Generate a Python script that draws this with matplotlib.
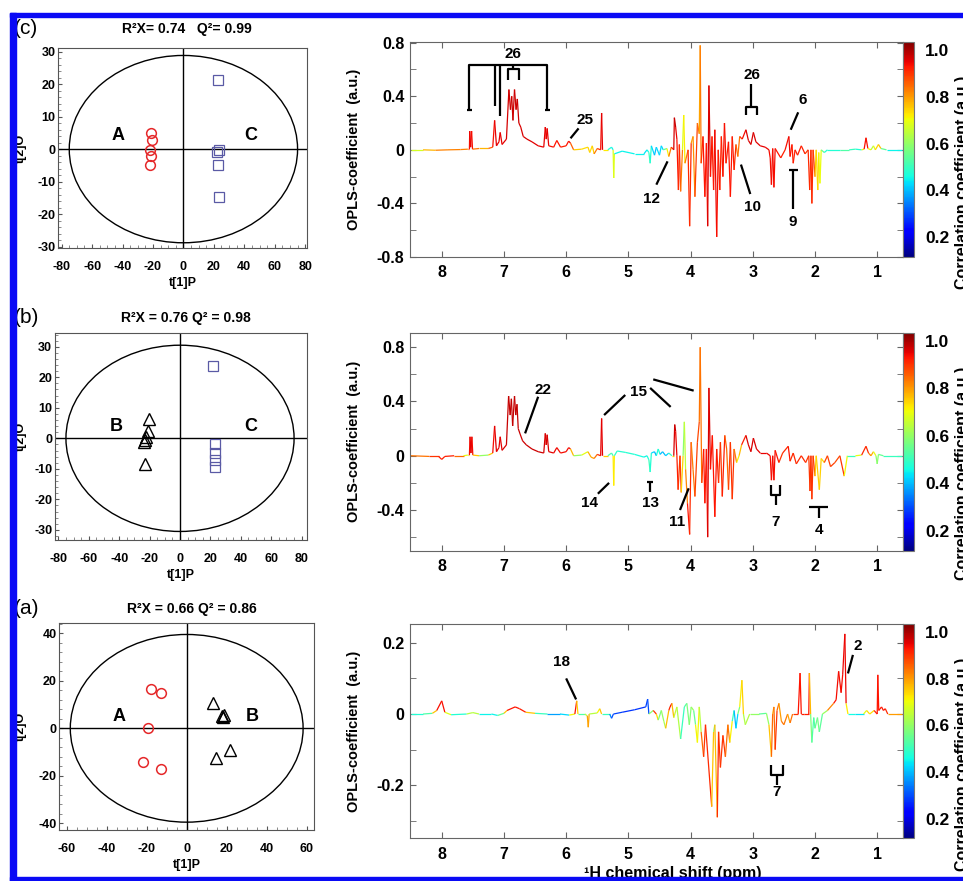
import numpy as np
import matplotlib
matplotlib.use("Agg")
import matplotlib.pyplot as plt
from matplotlib.collections import LineCollection
from matplotlib.patches import Ellipse, Rectangle
from matplotlib.colors import Normalize
from matplotlib.cm import ScalarMappable
from matplotlib.ticker import FixedLocator, AutoMinorLocator, FuncFormatter

plt.rcParams["font.family"] = ["Liberation Sans", "DejaVu Sans"]
plt.rcParams["font.weight"] = "bold"
plt.rcParams["axes.unicode_minus"] = False

# ---------------------------------------------------------------- score plots
# panel (c): A vs C
c_A_x = [-21.5, -20.9, -22.2, -21.4, -22.2]
c_A_y = [5.1, 2.8, -0.2, -2.1, -4.8]
c_C_x = [22.4, 23.5, 22.0, 23.0, 23.5]
c_C_y = [21.2, -0.3, -1.0, -5.0, -14.7]
# panel (b): B vs C
b_B_x = [-20.2, -20.8, -23.0, -23.5, -22.5, -23.0]
b_B_y = [6.2, 2.4, -0.5, -1.2, 0.3, -8.5]
b_C_x = [21.4, 22.9, 22.7, 22.7, 22.7]
b_C_y = [23.6, -1.7, -4.7, -7.2, -9.3]
# panel (a): A vs B
a_A_x = [-17.8, -13.0, -19.2, -22.0, -12.8]
a_A_y = [16.4, 15.0, 0.0, -14.2, -17.3]
a_B_x = [13.3, 17.5, 18.7, 18.0, 14.7, 21.7]
a_B_y = [10.5, 5.2, 5.5, 4.8, -12.4, -9.3]

titles = ["R²X= 0.74   Q²= 0.99", "R²X = 0.76 Q² = 0.98", "R²X = 0.66 Q² = 0.86"]
tags = ["(c)", "(b)", "(a)"]

# ---------------------------------------------------------------- loadings (ppm, coefficient, correlation)
c_ppm = [8.50, 8.30, 8.10, 7.90, 7.70, 7.58, 7.555, 7.55, 7.535, 7.52, 7.505, 7.40, 7.25, 7.18, 7.15,
         7.12, 7.08, 7.06, 7.03, 6.96, 6.92, 6.895, 6.875, 6.855, 6.83, 6.805, 6.785, 6.76, 6.73, 6.69,
         6.63, 6.55, 6.45, 6.36, 6.335, 6.32, 6.305, 6.28, 6.20, 6.15, 6.09, 6.00, 5.96, 5.93, 5.88,
         5.75, 5.65, 5.62, 5.58, 5.55, 5.50, 5.445, 5.43, 5.415, 5.33, 5.27, 5.245, 5.235, 5.225, 5.10,
         4.90, 4.75, 4.70, 4.67, 4.65, 4.63, 4.58, 4.55, 4.50, 4.47, 4.44, 4.38, 4.35, 4.31, 4.27,
         4.26, 4.24, 4.22, 4.195, 4.18, 4.16, 4.13, 4.11, 4.09, 4.04, 4.015, 3.99, 3.96, 3.93, 3.89,
         3.86, 3.845, 3.83, 3.80, 3.77, 3.745, 3.725, 3.705, 3.68, 3.655, 3.63, 3.61, 3.58, 3.555, 3.53,
         3.505, 3.48, 3.455, 3.43, 3.39, 3.36, 3.33, 3.30, 3.27, 3.24, 3.21, 3.17, 3.11, 3.07, 3.03,
         2.99, 2.95, 2.88, 2.80, 2.74, 2.72, 2.70, 2.68, 2.66, 2.64, 2.55, 2.48, 2.42, 2.40, 2.37,
         2.35, 2.32, 2.28, 2.22, 2.16, 2.11, 2.085, 2.065, 2.05, 2.03, 2.00, 1.98, 1.955, 1.94, 1.92,
         1.90, 1.85, 1.80, 1.60, 1.45, 1.35, 1.25, 1.21, 1.18, 1.15, 1.10, 1.06, 1.03, 0.98, 0.94,
         0.85, 0.60]
c_coef = [0.0, 0.0, -0.003, 0.0, 0.002, 0.005, 0.005, 0.14, 0.02, 0.14, 0.005, 0.01, 0.01, 0.02, 0.22,
          0.03, 0.06, 0.13, 0.04, 0.08, 0.45, 0.30, 0.40, 0.22, 0.45, 0.30, 0.38, 0.20, 0.17, 0.10,
          0.08, 0.06, 0.03, 0.02, 0.17, 0.08, 0.16, 0.03, 0.02, 0.07, 0.02, 0.03, 0.065, 0.05, 0.0,
          0.005, 0.02, -0.02, 0.03, -0.03, 0.01, 0.0, 0.275, 0.0, 0.0, 0.02, 0.0, -0.21, -0.03, -0.01,
          -0.03, -0.03, 0.0, -0.02, -0.10, 0.03, -0.04, 0.02, -0.04, 0.03, 0.0, 0.01, -0.05, 0.02, 0.0,
          0.24, 0.17, 0.08, -0.30, 0.04, -0.31, 0.0, 0.26, -0.10, 0.0, -0.57, 0.05, 0.10, -0.35, 0.20,
          0.12, 0.78, -0.10, 0.10, -0.35, 0.05, -0.57, 0.48, -0.20, 0.10, -0.30, 0.15, -0.65, 0.0, -0.30,
          0.10, -0.20, 0.20, -0.10, 0.06, -0.35, 0.10, -0.15, 0.04, -0.05, 0.10, 0.08, 0.15, 0.07, 0.04,
          0.13, 0.06, 0.03, 0.02, 0.0, -0.06, -0.26, 0.01, -0.28, 0.01, -0.06, 0.0, 0.10, -0.05, 0.04,
          -0.10, 0.0, -0.04, 0.03, -0.03, 0.0, -0.30, 0.0, -0.40, 0.0, -0.20, 0.0, -0.30, -0.02, -0.25,
          0.0, -0.02, 0.0, 0.0, 0.0, 0.005, 0.0, 0.005, 0.09, 0.01, 0.0, 0.03, 0.0, 0.04, 0.01,
          0.0, 0.0]
c_corr = [0.6, 0.75, 0.8, 0.85, 0.8, 0.85, 0.92, 0.95, 0.95, 0.95, 0.92, 0.75, 0.8, 0.92, 0.95,
          0.95, 0.95, 0.95, 0.95, 0.96, 0.97, 0.97, 0.97, 0.97, 0.97, 0.97, 0.97, 0.97, 0.96, 0.96,
          0.96, 0.96, 0.95, 0.95, 0.95, 0.95, 0.95, 0.95, 0.92, 0.94, 0.92, 0.92, 0.94, 0.94, 0.78,
          0.72, 0.75, 0.75, 0.72, 0.78, 0.88, 0.92, 0.96, 0.95, 0.5, 0.45, 0.45, 0.92, 0.45, 0.45,
          0.45, 0.45, 0.42, 0.5, 0.5, 0.45, 0.4, 0.4, 0.45, 0.4, 0.45, 0.65, 0.78, 0.88, 0.95,
          0.98, 0.97, 0.92, 0.94, 0.88, 0.94, 0.72, 0.65, 0.78, 0.88, 0.94, 0.88, 0.72, 0.9, 0.88,
          0.8, 0.78, 0.88, 0.92, 0.94, 0.92, 0.94, 0.98, 0.94, 0.92, 0.92, 0.94, 0.95, 0.92, 0.92,
          0.92, 0.92, 0.95, 0.92, 0.92, 0.94, 0.92, 0.92, 0.9, 0.8, 0.88, 0.92, 0.96, 0.96, 0.96,
          0.96, 0.96, 0.95, 0.95, 0.94, 0.94, 0.94, 0.94, 0.94, 0.94, 0.92, 0.92, 0.95, 0.94, 0.92,
          0.92, 0.92, 0.92, 0.92, 0.92, 0.88, 0.94, 0.88, 0.94, 0.88, 0.9, 0.6, 0.88, 0.6, 0.8,
          0.6, 0.5, 0.45, 0.5, 0.55, 0.45, 0.5, 0.92, 0.95, 0.92, 0.5, 0.78, 0.6, 0.88, 0.65,
          0.45, 0.45]

b_ppm = [8.50, 8.20, 8.05, 8.00, 7.95, 7.80, 7.65, 7.58, 7.555, 7.545, 7.53, 7.515, 7.50, 7.40, 7.25,
         7.18, 7.15, 7.12, 7.08, 7.06, 7.03, 6.96, 6.925, 6.90, 6.88, 6.86, 6.83, 6.81, 6.79, 6.77,
         6.74, 6.70, 6.64, 6.55, 6.45, 6.36, 6.335, 6.32, 6.305, 6.28, 6.20, 6.15, 6.09, 6.00, 5.96,
         5.93, 5.88, 5.75, 5.65, 5.60, 5.55, 5.50, 5.445, 5.43, 5.415, 5.33, 5.27, 5.245, 5.235, 5.225,
         5.18, 5.05, 4.90, 4.75, 4.70, 4.67, 4.65, 4.63, 4.58, 4.55, 4.52, 4.49, 4.45, 4.40, 4.35,
         4.30, 4.27, 4.255, 4.24, 4.22, 4.20, 4.17, 4.15, 4.12, 4.10, 4.08, 4.05, 4.015, 3.99, 3.96,
         3.93, 3.89, 3.86, 3.845, 3.82, 3.79, 3.77, 3.745, 3.725, 3.705, 3.68, 3.65, 3.61, 3.58, 3.55,
         3.52, 3.49, 3.45, 3.42, 3.39, 3.36, 3.33, 3.30, 3.26, 3.22, 3.18, 3.11, 3.07, 3.03, 2.99,
         2.94, 2.88, 2.78, 2.72, 2.70, 2.68, 2.66, 2.64, 2.58, 2.52, 2.43, 2.40, 2.35, 2.30, 2.22,
         2.15, 2.10, 2.08, 2.065, 2.05, 2.03, 2.00, 1.98, 1.93, 1.90, 1.85, 1.80, 1.75, 1.68, 1.60,
         1.53, 1.48, 1.35, 1.25, 1.18, 1.14, 1.10, 1.06, 1.02, 1.00, 0.98, 0.90, 0.60]
b_coef = [0.0, -0.005, -0.005, -0.027, -0.005, 0.0, 0.0, 0.005, 0.005, 0.14, 0.02, 0.14, 0.005, 0.0, 0.005,
          0.02, 0.22, 0.03, 0.06, 0.14, 0.04, 0.08, 0.44, 0.30, 0.42, 0.22, 0.44, 0.30, 0.38, 0.20,
          0.16, 0.11, 0.08, 0.05, 0.03, 0.02, 0.165, 0.08, 0.155, 0.03, 0.02, 0.06, 0.02, 0.03, 0.06,
          0.05, 0.0, 0.005, 0.03, -0.01, -0.02, 0.01, 0.0, 0.275, 0.0, 0.0, 0.02, 0.0, -0.22, 0.0,
          0.035, 0.025, 0.01, -0.01, 0.0, -0.03, -0.12, 0.02, 0.03, 0.0, 0.05, 0.01, 0.03, 0.0, 0.02,
          0.0, 0.0, 0.23, 0.18, 0.0, -0.25, 0.0, -0.27, 0.0, 0.25, -0.10, -0.35, -0.58, 0.10, -0.10,
          -0.30, 0.10, 0.25, 0.80, -0.20, 0.05, -0.35, 0.05, -0.60, 0.50, -0.10, 0.15, -0.45, 0.05, -0.20,
          0.10, -0.30, 0.15, 0.05, -0.25, 0.10, -0.32, 0.05, -0.05, 0.0, 0.08, 0.15, 0.08, 0.03, 0.13,
          0.05, 0.02, 0.02, 0.0, -0.18, 0.0, -0.18, 0.04, -0.05, 0.02, 0.07, -0.04, 0.02, -0.06, 0.0,
          -0.05, 0.0, -0.26, 0.0, -0.32, 0.0, -0.15, 0.0, -0.25, -0.02, -0.05, 0.0, -0.08, -0.05, 0.0,
          -0.15, 0.0, 0.0, 0.005, 0.07, 0.02, 0.0, 0.03, 0.0, -0.06, 0.01, 0.0, 0.0]
b_corr = [0.8, 0.88, 0.92, 0.92, 0.92, 0.92, 0.78, 0.6, 0.92, 0.96, 0.95, 0.96, 0.92, 0.6, 0.6,
          0.92, 0.96, 0.95, 0.95, 0.96, 0.95, 0.97, 0.98, 0.98, 0.98, 0.98, 0.98, 0.98, 0.98, 0.98,
          0.97, 0.97, 0.97, 0.97, 0.97, 0.97, 0.96, 0.96, 0.96, 0.96, 0.95, 0.94, 0.94, 0.94, 0.94,
          0.94, 0.6, 0.6, 0.78, 0.78, 0.8, 0.88, 0.94, 0.96, 0.95, 0.55, 0.5, 0.5, 0.94, 0.5,
          0.48, 0.48, 0.48, 0.45, 0.45, 0.5, 0.5, 0.45, 0.4, 0.38, 0.55, 0.4, 0.4, 0.4, 0.45,
          0.55, 0.95, 0.98, 0.97, 0.92, 0.92, 0.88, 0.9, 0.6, 0.58, 0.72, 0.92, 0.94, 0.88, 0.78,
          0.9, 0.88, 0.88, 0.8, 0.88, 0.92, 0.94, 0.92, 0.94, 0.98, 0.94, 0.92, 0.94, 0.92, 0.92,
          0.88, 0.92, 0.92, 0.8, 0.9, 0.88, 0.92, 0.88, 0.78, 0.65, 0.88, 0.96, 0.96, 0.96, 0.96,
          0.96, 0.95, 0.95, 0.94, 0.94, 0.94, 0.94, 0.94, 0.92, 0.88, 0.94, 0.92, 0.9, 0.92, 0.9,
          0.92, 0.88, 0.92, 0.88, 0.92, 0.88, 0.9, 0.6, 0.9, 0.6, 0.88, 0.88, 0.9, 0.88, 0.88,
          0.92, 0.5, 0.5, 0.88, 0.94, 0.88, 0.78, 0.78, 0.6, 0.58, 0.6, 0.5, 0.5]

a_ppm = [8.50, 8.30, 8.15, 8.08, 8.00, 7.95, 7.85, 7.60, 7.50, 7.40, 7.20, 7.10, 7.00, 6.95, 6.82,
         6.75, 6.65, 6.50, 6.30, 6.10, 5.95, 5.86, 5.83, 5.81, 5.70, 5.66, 5.645, 5.63, 5.50, 5.46,
         5.43, 5.30, 5.27, 5.24, 5.10, 4.90, 4.72, 4.69, 4.67, 4.60, 4.55, 4.52, 4.47, 4.43, 4.40,
         4.35, 4.33, 4.30, 4.27, 4.22, 4.16, 4.10, 4.06, 4.02, 3.99, 3.95, 3.92, 3.89, 3.86, 3.83,
         3.79, 3.76, 3.66, 3.63, 3.61, 3.57, 3.55, 3.52, 3.48, 3.44, 3.40, 3.37, 3.33, 3.30, 3.27,
         3.24, 3.21, 3.175, 3.15, 3.12, 3.05, 2.90, 2.78, 2.74, 2.70, 2.68, 2.66, 2.64, 2.61, 2.58,
         2.54, 2.50, 2.44, 2.40, 2.36, 2.27, 2.24, 2.22, 2.17, 2.10, 2.09, 2.07, 2.05, 2.02, 2.00,
         1.96, 1.93, 1.88, 1.80, 1.70, 1.66, 1.62, 1.58, 1.555, 1.52, 1.50, 1.47, 1.35, 1.22, 1.17,
         1.12, 1.05, 1.00, 0.99, 0.975, 0.93, 0.90, 0.87, 0.83, 0.60]
a_coef = [0.0, 0.0, 0.002, 0.01, 0.037, 0.005, -0.002, 0.0, 0.004, 0.0, 0.0, -0.004, 0.002, 0.01, 0.02,
          0.015, 0.005, 0.002, 0.0, 0.0, -0.003, 0.0, 0.037, 0.0, 0.0, -0.005, -0.037, 0.0, 0.003, 0.015,
          0.0, 0.0, -0.012, 0.0, 0.005, 0.012, 0.02, 0.042, 0.0, 0.01, 0.0, -0.017, 0.01, -0.02, -0.04,
          0.01, 0.02, 0.03, -0.01, 0.02, -0.07, 0.02, 0.03, -0.03, 0.02, 0.01, -0.03, -0.08, 0.02, -0.05,
          -0.12, -0.03, -0.26, -0.05, -0.03, -0.29, -0.05, -0.15, -0.06, -0.12, -0.03, -0.08, -0.02, 0.01, -0.04,
          0.0, 0.02, 0.095, 0.0, -0.03, 0.0, 0.0, 0.002, -0.03, -0.12, 0.0, 0.02, -0.10, 0.01, 0.03,
          -0.02, -0.03, 0.0, -0.025, 0.0, 0.0, 0.115, 0.0, 0.0, 0.0, 0.115, 0.0, -0.08, -0.01, -0.04,
          -0.01, -0.05, 0.0, 0.01, 0.03, 0.04, 0.12, 0.06, 0.11, 0.225, 0.03, 0.0, 0.0, 0.0, 0.01,
          0.0, 0.01, 0.0, 0.11, 0.01, 0.02, 0.01, 0.015, 0.0, 0.0]
a_corr = [0.5, 0.45, 0.6, 0.92, 0.95, 0.92, 0.45, 0.5, 0.78, 0.5, 0.4, 0.5, 0.6, 0.92, 0.94,
          0.92, 0.92, 0.6, 0.4, 0.35, 0.5, 0.92, 0.94, 0.55, 0.5, 0.78, 0.8, 0.78, 0.5, 0.92,
          0.6, 0.4, 0.3, 0.3, 0.28, 0.28, 0.28, 0.3, 0.3, 0.88, 0.92, 0.55, 0.6, 0.6, 0.65,
          0.88, 0.94, 0.94, 0.6, 0.72, 0.55, 0.45, 0.6, 0.55, 0.62, 0.6, 0.5, 0.92, 0.5, 0.78,
          0.92, 0.88, 0.94, 0.58, 0.6, 0.94, 0.88, 0.92, 0.88, 0.92, 0.78, 0.88, 0.55, 0.45, 0.35,
          0.5, 0.65, 0.78, 0.72, 0.55, 0.72, 0.48, 0.6, 0.6, 0.92, 0.78, 0.78, 0.92, 0.88, 0.8,
          0.8, 0.88, 0.78, 0.8, 0.88, 0.92, 0.94, 0.92, 0.92, 0.92, 0.94, 0.6, 0.55, 0.5, 0.55,
          0.55, 0.58, 0.5, 0.72, 0.92, 0.94, 0.94, 0.94, 0.94, 0.95, 0.94, 0.5, 0.42, 0.45, 0.92,
          0.55, 0.92, 0.92, 0.94, 0.92, 0.94, 0.92, 0.94, 0.88, 0.72]

# peak assignments: (label, ppm, coefficient) and leader lines / brackets
c_labels = [("26", 6.85, 0.713), ("25", 5.70, 0.226), ("12", 4.63, -0.37), ("26", 3.02, 0.56),
            ("10", 3.00, -0.43), ("6", 2.19, 0.37), ("9", 2.35, -0.54)]
c_marks = [[(7.555, 0.295), (7.555, 0.635), (6.30, 0.635), (6.30, 0.295)],
           [(7.60, 0.295), (7.51, 0.295)], [(6.345, 0.295), (6.255, 0.295)],
           [(7.15, 0.635), (7.15, 0.33)], [(7.06, 0.635), (7.06, 0.25)],
           [(6.94, 0.52), (6.94, 0.60), (6.76, 0.60), (6.76, 0.52)], [(6.85, 0.60), (6.85, 0.635)],
           [(5.80, 0.16), (5.93, 0.086)], [(4.55, -0.26), (4.37, -0.086)],
           [(3.03, 0.49), (3.03, 0.32)], [(3.11, 0.26), (3.11, 0.32), (2.94, 0.32), (2.94, 0.26)],
           [(3.04, -0.33), (3.19, -0.11)], [(2.27, 0.28), (2.39, 0.15)],
           [(2.41, -0.148), (2.28, -0.148)], [(2.35, -0.148), (2.35, -0.44)]]
b_labels = [("22", 6.37, 0.485), ("15", 4.84, 0.47), ("14", 5.62, -0.35), ("13", 4.65, -0.35),
            ("11", 4.22, -0.49), ("7", 2.63, -0.487), ("4", 1.93, -0.55)]
b_marks = [[(6.45, 0.435), (6.66, 0.165)],
           [(5.05, 0.448), (5.39, 0.30)], [(4.65, 0.50), (4.32, 0.36)], [(4.60, 0.563), (3.95, 0.48)],
           [(5.49, -0.28), (5.31, -0.20)],
           [(4.70, -0.19), (4.60, -0.19)], [(4.65, -0.19), (4.65, -0.27)],
           [(4.17, -0.40), (4.03, -0.24)],
           [(2.70, -0.216), (2.70, -0.29), (2.56, -0.29), (2.56, -0.216)], [(2.63, -0.29), (2.63, -0.364)],
           [(2.09, -0.376), (1.79, -0.376)], [(1.93, -0.376), (1.93, -0.46)]]
a_labels = [("18", 6.07, 0.147), ("7", 2.62, -0.218), ("2", 1.31, 0.19)]
a_marks = [[(6.0, 0.10), (5.84, 0.041)],
           [(2.71, -0.143), (2.71, -0.171), (2.52, -0.171), (2.52, -0.143)], [(2.615, -0.171), (2.615, -0.2)],
           [(1.39, 0.166), (1.47, 0.114)]]

W, H = 963, 881
fig = plt.figure(figsize=(W / 100, H / 100), dpi=100)


def add_px(l, t, r, b):
    return fig.add_axes([l / W, 1 - b / H, (r - l) / W, (b - t) / H])


def fmt(v, pos=None):
    if abs(v) < 1e-9:
        return "0"
    return f"{v:g}"


def score_panel(box, xlim, ylim, xticks, yticks, ell, groups, names, title, tag, ty):
    ax = add_px(*box)
    ax.set_xlim(*xlim)
    ax.set_ylim(*ylim)
    ax.add_patch(Ellipse((0, 0), 2 * ell[0], 2 * ell[1], fill=False, lw=1.0, color="k"))
    ax.axhline(0, color="k", lw=1.0)
    ax.axvline(0, color="k", lw=1.0)
    for gx, gy, mk, col, ms, mew in groups:
        ax.plot(gx, gy, mk, mfc="none", mec=col, ms=ms, mew=mew, ls="none")
    for txt, x, y in names:
        ax.text(x, y, txt, fontsize=13, fontweight="bold", ha="center", va="center")
    ax.set_xticks(xticks)
    ax.set_yticks(yticks)
    ax.xaxis.set_major_formatter(FuncFormatter(fmt))
    ax.yaxis.set_major_formatter(FuncFormatter(fmt))
    ax.xaxis.set_minor_locator(AutoMinorLocator(4))
    ax.yaxis.set_minor_locator(AutoMinorLocator(5))
    ax.tick_params(axis="x", which="both", direction="in", pad=9, labelsize=9)
    ax.tick_params(axis="y", which="both", direction="in", pad=2, labelsize=9)
    ax.tick_params(which="major", length=3, color="#555555")
    ax.tick_params(which="minor", length=2, color="#777777")
    for s in ax.spines.values():
        s.set_color("#555555")
    ax.set_xlabel("t[1]P", fontsize=9, fontweight="bold", labelpad=3)
    fig.text(21 / W, 1 - (box[1] + box[3]) / 2 / H, "t[2]O", rotation=90, fontsize=9,
             fontweight="bold", ha="center", va="center")
    fig.text((box[0] + box[2]) / 2 / W + 0.005, 1 - ty / H, title, fontsize=10,
             fontweight="bold", ha="center", va="center")
    fig.text(14 / W, 1 - ty / H, tag, fontsize=15, fontweight="normal", ha="left", va="center")
    return ax


red, blue, blk = "#e5282a", "#5a5aa5", "black"
score_panel((58.3, 48.3, 306.7, 248.3), (-82.2, 81.0), (-30.5, 31.0), range(-80, 81, 20),
            range(-30, 31, 10), (75, 28.8),
            [(c_A_x, c_A_y, "o", red, 7, 1.1), (c_C_x, c_C_y, "s", blue, 6.5, 0.9)],
            [("A", -42.8, 4.1), ("C", 44.2, 4.1)], titles[0], tags[0], 29)
score_panel((55, 333.3, 306.7, 540), (-82.2, 83.3), (-33.3, 34.4), range(-80, 81, 20),
            range(-30, 31, 10), (75, 30.5),
            [(b_B_x, b_B_y, "^", blk, 8, 1.0), (b_C_x, b_C_y, "s", blue, 6.5, 0.9)],
            [("B", -42.2, 4.0), ("C", 46.2, 4.0)], titles[1], tags[1], 318)
score_panel((59.3, 623.3, 314.3, 830), (-63.7, 63.8), (-42.8, 44.2), range(-60, 61, 20),
            range(-40, 41, 20), (58.2, 39.5),
            [(a_A_x, a_A_y, "o", red, 7, 1.1), (a_B_x, a_B_y, "^", blk, 8, 1.0)],
            [("A", -33.7, 4.8), ("B", 32.8, 4.8)], titles[2], tags[2], 609)

# ---------------------------------------------------------------- loading plots
cmap = plt.get_cmap("jet")
norm = Normalize(0.115, 1.034)


def spectrum_panel(top, bottom, ylim, majors, minors, ppm, coef, corr, labels, marks):
    ax = add_px(410, top, 902.7, bottom)
    pts = np.column_stack([ppm, coef])
    segs = np.stack([pts[:-1], pts[1:]], axis=1)
    cc = (np.array(corr[:-1]) + np.array(corr[1:])) / 2
    lc = LineCollection(segs, colors=cmap(norm(cc)), linewidths=0.9)
    ax.add_collection(lc)
    ax.set_xlim(8.51, 0.59)
    ax.set_ylim(*ylim)
    for line in marks:
        xs, ys = zip(*line)
        ax.plot(xs, ys, color="k", lw=1.6, solid_capstyle="butt")
    for txt, x, y in labels:
        ax.text(x, y, txt, fontsize=11, fontweight="bold", ha="center", va="center")
    ax.set_xticks(range(1, 9))
    ax.yaxis.set_major_locator(FixedLocator(majors))
    ax.yaxis.set_minor_locator(FixedLocator(minors))
    ax.xaxis.set_major_formatter(FuncFormatter(fmt))
    ax.yaxis.set_major_formatter(FuncFormatter(fmt))
    ax.tick_params(which="both", direction="in", top=True, right=True, length=4,
                   color="#666666", labelsize=11.5)
    ax.tick_params(axis="x", pad=6)
    ax.tick_params(axis="y", pad=4)
    for s in ax.spines.values():
        s.set_color("#666666")
    ax.set_ylabel("OPLS-coefficient  (a.u.)", fontsize=10.5, fontweight="bold", labelpad=4)
    ax.yaxis.set_label_coords(-(410 - 361) / (902.7 - 410), 0.5)
    cax = add_px(903, top, 914, bottom)
    cb = fig.colorbar(ScalarMappable(norm=norm, cmap=cmap), cax=cax)
    cb.set_ticks([0.2, 0.4, 0.6, 0.8, 1.0])
    cb.set_ticklabels(["0.2", "0.4", "0.6", "0.8", "1.0"])
    cb.outline.set_edgecolor("#777777")
    cax.tick_params(length=0, labelsize=12.5, pad=8)
    fig.text(955 / W, 1 - (top + 140) / H, "Correlation coefficient (a.u.)", rotation=90,
             fontsize=11.5, fontweight="bold", ha="left", va="center")
    return ax


spectrum_panel(42, 257, (-0.80, 0.805), [-0.8, -0.4, 0, 0.4, 0.8], [-0.6, -0.2, 0.2, 0.6],
               c_ppm, c_coef, c_corr, c_labels, c_marks)
spectrum_panel(333, 550.7, (-0.70, 0.905), [-0.4, 0, 0.4, 0.8], [-0.6, -0.2, 0.2, 0.6],
               b_ppm, b_coef, b_corr, b_labels, b_marks)
spectrum_panel(624.3, 838.3, (-0.349, 0.252), [-0.2, 0, 0.2], [-0.3, -0.1, 0.1],
               a_ppm, a_coef, a_corr, a_labels, a_marks)

fig.text(673 / W, 1 - 866 / H, "¹H chemical shift (ppm)", fontsize=11.5, fontweight="bold",
         ha="center", va="top")

# blue frame of the original figure
frame = "#0a0af5"
for x0, y0, w, h in [(10, 12.7, W - 10, 4.6), (10, 12.7, 6, H - 12.7), (10, 877, W - 10, 4)]:
    fig.add_artist(Rectangle((x0 / W, 1 - (y0 + h) / H), w / W, h / H, transform=fig.transFigure,
                             color=frame, zorder=10))

fig.savefig("out.png", dpi=100)
